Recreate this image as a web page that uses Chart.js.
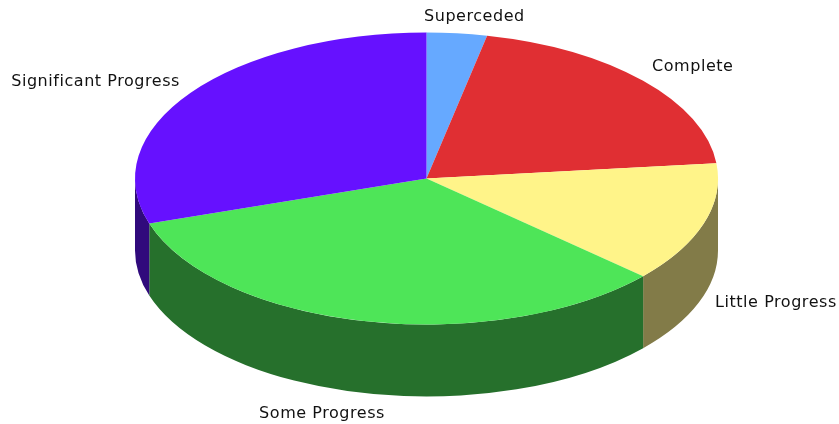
<!DOCTYPE html>
<html><head><meta charset="utf-8">
<style>html,body{margin:0;padding:0;background:#fff}#w{width:839px;height:424px}</style>
<script src="https://cdn.jsdelivr.net/npm/chart.js@4"></script></head>
<body><div id="w"><canvas id="c" width="839" height="424"></canvas></div>
<script>
const categories = ["Superceded","Complete","Little Progress","Some Progress","Significant Progress"];
const values = [1,6,4,10,9];
const topColors = ["#66a9ff","#e02f33","#fff489","#4ee558","#6611ff"];
const sideColors = ["#33547f","#70171a","#827b48","#26702c","#300a7c"];
const labelAnchors = [[424,17,"left"],[652,67,"left"],[715,303,"left"],[385,414,"right"],[180,82,"right"]];
const cx=426.5, cy=178.5, rx=291.5, ry=146, depth=72;
const pie3d = {
  id:"pie3d",
  beforeDatasetsDraw(chart){
    const ctx=chart.ctx, arcs=chart.getDatasetMeta(0).data;
    arcs.forEach((arc,i)=>{
      const a=Math.max(arc.startAngle,0), b=Math.min(arc.endAngle,Math.PI);
      if(b<=a) return;
      ctx.save();
      ctx.beginPath();
      ctx.ellipse(cx,cy,rx,ry,0,a,b,false);
      ctx.lineTo(cx+rx*Math.cos(b),cy+ry*Math.sin(b)+depth);
      ctx.ellipse(cx,cy+depth,rx,ry,0,b,a,true);
      ctx.closePath();
      ctx.fillStyle=sideColors[i];
      ctx.fill();
      ctx.restore();
    });
    const r=arcs[0].outerRadius;
    ctx.save();
    ctx.translate(cx,cy);
    ctx.scale(rx/r,ry/r);
    ctx.translate(-arcs[0].x,-arcs[0].y);
  },
  afterDatasetsDraw(chart){
    const ctx=chart.ctx;
    ctx.restore();
    ctx.save();
    ctx.font='16px "DejaVu Sans"';
    ctx.letterSpacing="0.55px";
    ctx.fillStyle="#111";
    ctx.textBaseline="middle";
    categories.forEach((t,i)=>{
      const p=labelAnchors[i];
      ctx.textAlign=p[2];
      ctx.fillText(t,p[0],p[1]);
    });
    ctx.restore();
  }
};
new Chart(document.getElementById("c"),{
  type:"pie",
  data:{labels:categories,datasets:[{data:values,backgroundColor:topColors,borderWidth:0,clip:false}]},
  options:{responsive:false,animation:false,devicePixelRatio:1,
    plugins:{legend:{display:false},tooltip:{enabled:false}}},
  plugins:[pie3d]
});
</script></body></html>
